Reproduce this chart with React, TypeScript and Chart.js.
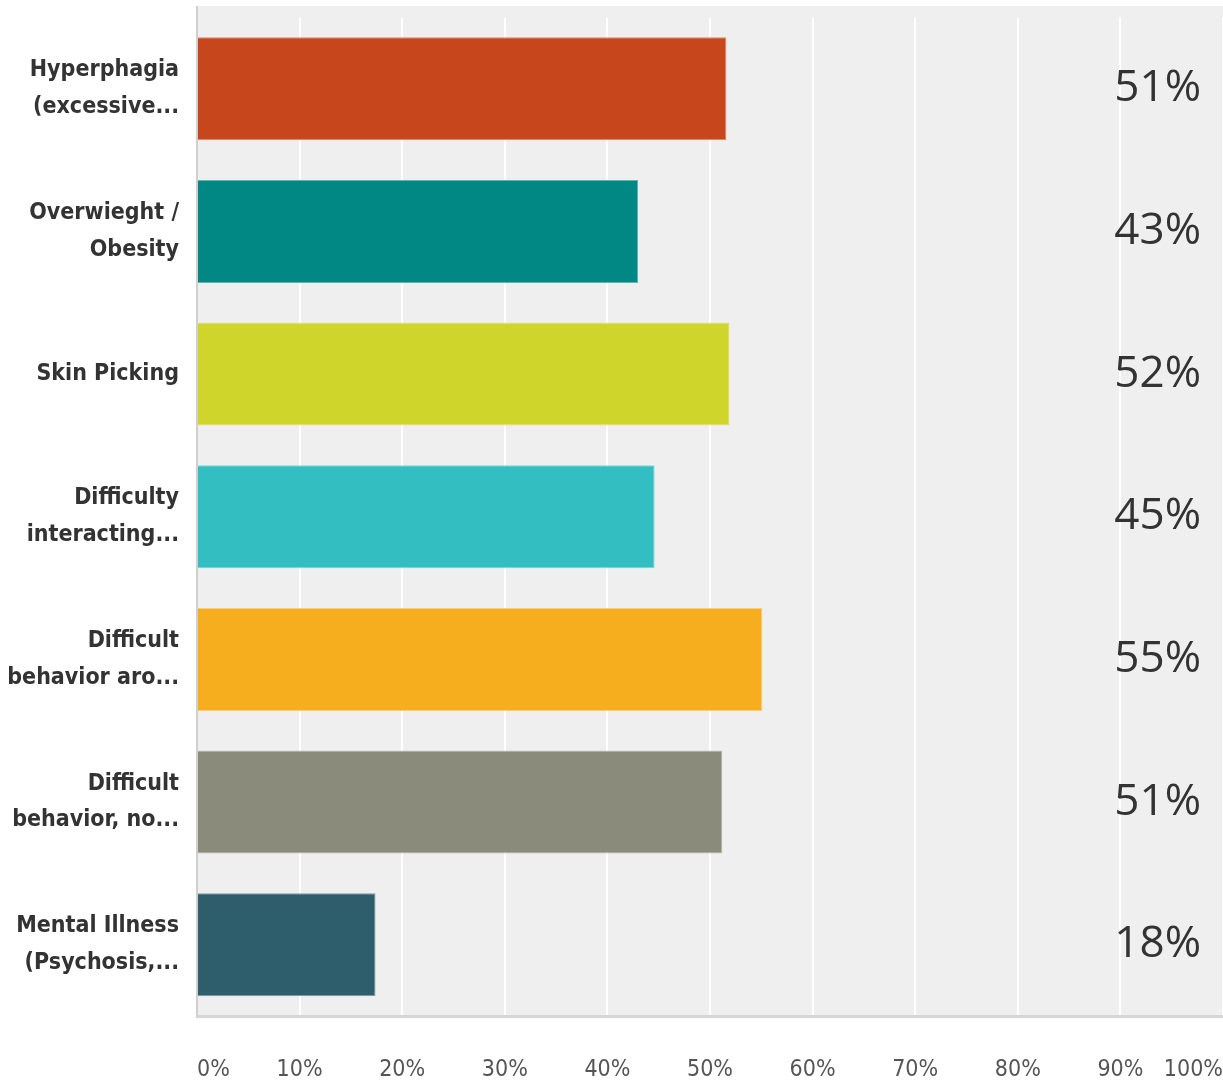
import React, { useEffect, useRef } from "react";
import { Chart, registerables } from "chart.js";

Chart.register(...registerables);

const categories: string[][] = [
  ["Hyperphagia", "(excessive..."],
  ["Overwieght /", "Obesity"],
  ["Skin Picking"],
  ["Difficulty", "interacting..."],
  ["Difficult", "behavior aro..."],
  ["Difficult", "behavior, no..."],
  ["Mental Illness", "(Psychosis,..."],
];
const values: number[] = [51.6, 43.0, 51.9, 44.6, 55.1, 51.2, 17.4];
const valueLabels: string[] = ["51%", "43%", "52%", "45%", "55%", "51%", "18%"];
const barColors: string[] = ["#c8461c", "#018885", "#cfd52a", "#33bec1", "#f6ae1f", "#8a8b7b", "#2e5e6b"];
const borderColors: string[] = ["#d98a70", "#5fb3b1", "#e0e47a", "#7ad4d6", "#f8cd7a", "#b4b5a9", "#7c9aa3"];
const xTicks: number[] = [0, 10, 20, 30, 40, 50, 60, 70, 80, 90, 100];

const bgPlugin = {
  id: "plotBg",
  beforeDraw(chart: any) {
    const { ctx, chartArea } = chart;
    ctx.save();
    ctx.fillStyle = "#efefef";
    ctx.fillRect(chartArea.left, 6, chart.width - chartArea.left, chartArea.bottom - 6);
    ctx.strokeStyle = "#cfcfcf";
    ctx.lineWidth = 2;
    ctx.beginPath();
    ctx.moveTo(chartArea.left, 6);
    ctx.lineTo(chartArea.left, chartArea.top);
    ctx.stroke();
    ctx.restore();
  },
};

const valueLabelPlugin = {
  id: "valueLabels",
  afterDatasetsDraw(chart: any) {
    const { ctx, chartArea } = chart;
    const meta = chart.getDatasetMeta(0);
    ctx.save();
    ctx.font = '44px "Open Sans"';
    ctx.fillStyle = "#333333";
    ctx.textAlign = "right";
    ctx.textBaseline = "middle";
    meta.data.forEach((bar: any, i: number) => {
      ctx.fillText(valueLabels[i], chartArea.right - 22, bar.y);
    });
    ctx.restore();
  },
};

export default function App() {
  const ref = useRef<HTMLCanvasElement | null>(null);
  useEffect(() => {
    document.body.style.margin = "0";
    if (!ref.current) return;
    const chart = new Chart(ref.current, {
      type: "bar",
      data: {
        labels: categories,
        datasets: [
          {
            data: values,
            backgroundColor: barColors,
            borderColor: borderColors,
            borderWidth: 1,
            barPercentage: 0.722,
            categoryPercentage: 1,
          },
        ],
      },
      options: {
        indexAxis: "y",
        animation: false,
        responsive: false,
        layout: { padding: { top: 17.5, right: 0, left: 0, bottom: 0 } },
        plugins: { legend: { display: false }, tooltip: { enabled: false } },
        scales: {
          x: {
            min: 0,
            max: 100,
            afterBuildTicks: (scale: any) => {
              scale.ticks = xTicks.map((v) => ({ value: v }));
            },
            afterFit: (scale: any) => {
              scale.height = 68;
              scale.paddingLeft = 0;
              scale.paddingRight = 0;
            },
            grid: { color: "#ffffff", lineWidth: 2, drawTicks: false },
            border: { display: true, color: "#d6d6d6", width: 3 },
            ticks: {
              align: "inner",
              padding: 40,
              color: "#555555",
              font: { family: '"DejaVu Sans Condensed", "DejaVu Sans"', size: 23 },
              callback: (v: any) => v + "%",
            },
          },
          y: {
            afterFit: (scale: any) => {
              scale.width = 197;
              scale.paddingTop = 0;
              scale.paddingBottom = 0;
            },
            grid: { display: false, drawTicks: false },
            border: { display: true, color: "#cfcfcf", width: 2 },
            ticks: {
              padding: 18,
              color: "#333333",
              font: { family: '"DejaVu Sans Condensed", "DejaVu Sans"', size: 23, weight: "bold", lineHeight: 1.6 },
            },
          },
        },
      },
      plugins: [bgPlugin, valueLabelPlugin],
    });
    return () => chart.destroy();
  }, []);
  return <canvas ref={ref} width={1223} height={1084} style={{ display: "block" }} />;
}
